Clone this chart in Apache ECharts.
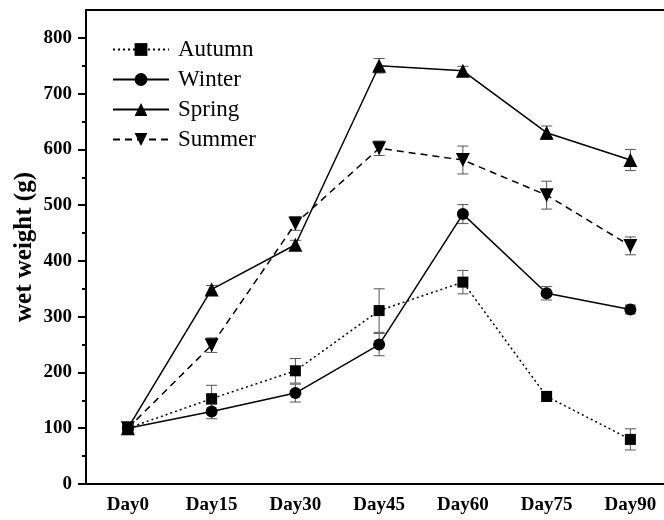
<!DOCTYPE html>
<html>
<head>
<meta charset="utf-8">
<script src="https://cdn.jsdelivr.net/npm/echarts@6/dist/echarts.min.js"></script>
<style>html,body{margin:0;padding:0;background:#fff;}#c{width:664px;height:520px;}</style>
</head>
<body>
<div id="c"></div>
<script>
var categories = ['Day0', 'Day15', 'Day30', 'Day45', 'Day60', 'Day75', 'Day90', ''];
var autumn = [100, 153, 203, 311, 362, 157, 80];
var autumnErr = [3, 24, 22, 39, 21, 9, 19];
var winter = [100, 130, 163, 250, 484, 342, 313];
var winterErr = [3, 13, 16, 20, 17, 12, 8];
var spring = [100, 349, 429, 750, 741, 630, 581];
var springErr = [3, 7, 8, 13, 8, 12, 19];
var summer = [100, 249, 467, 602, 581, 518, 427];
var summerErr = [3, 13, 12, 13, 25, 25, 16];
var yMajorTicks = [0, 100, 200, 300, 400, 500, 600, 700, 800];
var yMinorTicks = [50, 150, 250, 350, 450, 550, 650, 750];

var FONT = 'Liberation Serif';
var chart = echarts.init(document.getElementById('c'));

function errSeries(vals, errs) {
  var d = vals.map(function (v, i) { return [i, v, errs[i]]; });
  return {
    type: 'custom',
    z: 1,
    silent: true,
    data: d,
    renderItem: function (params, api) {
      var x = api.value(0), v = api.value(1), e = api.value(2);
      var top = api.coord([x, v + e]);
      var bot = api.coord([x, v - e]);
      var hw = 5.5;
      var st = { stroke: '#555', lineWidth: 1 };
      return {
        type: 'group',
        children: [
          { type: 'line', shape: { x1: top[0], y1: top[1], x2: bot[0], y2: bot[1] }, style: st },
          { type: 'line', shape: { x1: top[0] - hw, y1: top[1], x2: top[0] + hw, y2: top[1] }, style: st },
          { type: 'line', shape: { x1: bot[0] - hw, y1: bot[1], x2: bot[0] + hw, y2: bot[1] }, style: st }
        ]
      };
    }
  };
}

function lineSeries(name, data, symbol, size, type, rot) {
  return {
    name: name,
    type: 'line',
    z: 3,
    data: data,
    symbol: symbol,
    symbolSize: size,
    symbolRotate: rot || 0,
    showAllSymbol: true,
    color: '#000',
    itemStyle: { color: '#000' },
    lineStyle: { color: '#000', width: 1.5, type: type },
    emphasis: { disabled: true },
    animation: false
  };
}

var gridBox = { left: 86, top: 10, width: 670, height: 474, outerBoundsMode: 'none', containLabel: false };

var option = {
  animation: false,
  backgroundColor: '#fff',
  grid: [
    Object.assign({ show: true, borderColor: '#000', borderWidth: 2, backgroundColor: 'transparent' }, gridBox),
    Object.assign({ show: false }, gridBox)
  ],
  legend: {
    orient: 'vertical',
    left: 112,
    top: 38,
    padding: 0,
    itemWidth: 56,
    itemHeight: 16,
    itemGap: 7,
    data: ['Autumn', 'Winter', 'Spring', 'Summer'],
    textStyle: { fontFamily: FONT, fontSize: 23, color: '#000', lineHeight: 23, padding: [0, 0, 0, 4] }
  },
  xAxis: [{
    type: 'category',
    gridIndex: 0,
    data: categories,
    boundaryGap: true,
    axisLine: { lineStyle: { color: '#000', width: 2 } },
    axisTick: { alignWithLabel: true, length: 7, interval: 0, lineStyle: { color: '#000', width: 2 } },
    axisLabel: { fontFamily: FONT, fontSize: 19, fontWeight: 'bold', color: '#000', margin: 12, interval: 0 },
    splitLine: { show: false }
  }, {
    type: 'category',
    gridIndex: 1,
    data: categories,
    position: 'bottom',
    boundaryGap: true,
    axisLine: { show: false },
    axisTick: { alignWithLabel: false, length: 4, interval: 0, lineStyle: { color: '#000', width: 2 } },
    axisLabel: { show: false },
    splitLine: { show: false }
  }],
  yAxis: [{
    type: 'value',
    gridIndex: 0,
    min: 0,
    max: 850,
    name: 'wet weight (g)',
    nameLocation: 'middle',
    nameGap: 49,
    nameMoveOverlap: false,
    nameTextStyle: { fontFamily: FONT, fontSize: 25, fontWeight: 'bold', color: '#000' },
    axisLine: { show: true, lineStyle: { color: '#000', width: 2 } },
    axisTick: { show: true, length: 8, customValues: yMajorTicks, lineStyle: { color: '#000', width: 2 } },
    axisLabel: { customValues: yMajorTicks, fontFamily: FONT, fontSize: 19, fontWeight: 'bold', color: '#000', margin: 14 },
    splitLine: { show: false }
  }, {
    type: 'value',
    gridIndex: 1,
    min: 0,
    max: 850,
    position: 'left',
    axisLine: { show: false },
    axisTick: { show: true, length: 4, customValues: yMinorTicks, lineStyle: { color: '#000', width: 2 } },
    axisLabel: { show: false },
    splitLine: { show: false }
  }],
  series: [
    errSeries(autumn, autumnErr),
    errSeries(winter, winterErr),
    errSeries(spring, springErr),
    errSeries(summer, summerErr),
    lineSeries('Autumn', autumn, 'rect', 11, [2, 3]),
    lineSeries('Winter', winter, 'circle', 12, 'solid'),
    lineSeries('Spring', spring, 'triangle', 14, 'solid'),
    lineSeries('Summer', summer, 'triangle', 14, [7, 5], 180)
  ]
};
chart.setOption(option);
</script>
</body>
</html>
